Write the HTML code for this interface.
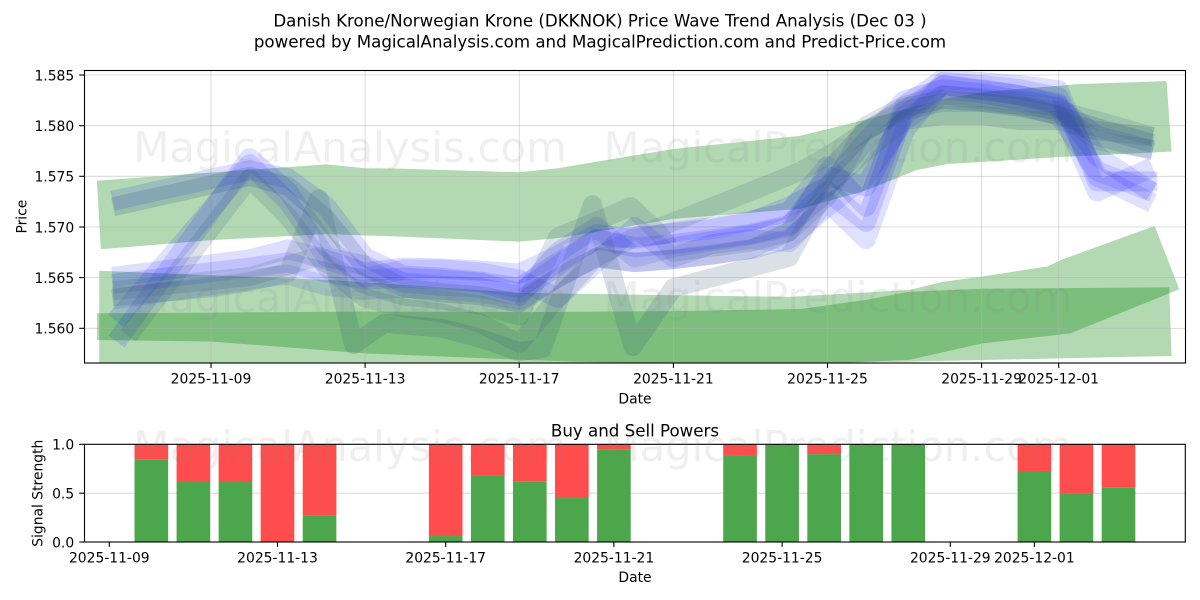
<!DOCTYPE html>
<html>
<head>
<meta charset="utf-8">
<style>
html,body{margin:0;padding:0;background:#fff;}
svg{display:block;}
text{font-family:"DejaVu Sans","Liberation Sans",sans-serif;}
</style>
</head>
<body>
<svg width="1200" height="600" viewBox="0 0 1200 600" xmlns="http://www.w3.org/2000/svg">
<rect width="1200" height="600" fill="#ffffff"/>
<defs>
<clipPath id="ct"><rect x="84.3" y="70.3" width="1101.4" height="292.7"/></clipPath>
</defs>

<!-- Title -->
<text x="600" y="26.5" font-size="16.67" text-anchor="middle" fill="#000">Danish Krone/Norwegian Krone (DKKNOK) Price Wave Trend Analysis (Dec 03 )</text>
<text x="600" y="47.5" font-size="16.67" text-anchor="middle" fill="#000">powered by MagicalAnalysis.com and MagicalPrediction.com and Predict-Price.com</text>

<!-- TOP AXES CONTENT -->
<g clip-path="url(#ct)">
  <g transform="matrix(38.53 0 0 -10.133 211 328.3)" fill="#008000" fill-opacity="0.3" stroke="none">
    <polygon points="-2.96,14.57 3.0,16.18 4.0,15.8 5.0,15.75 8.0,15.4 9.0,15.8 12,17.7 15.3,19.0 17,20.6 19,22.6 20,23.3 22.5,24.1 24.8,24.4 24.93,17.43 22,16.9 19.1,16.2 18.3,15.6 17,13.6 15.3,11.8 12,10.8 9,8.9 8,8.55 5,9.04 3,9.3 0,8.7 -2.86,7.8"/>
    <polygon points="-2.9,5.68 3.1,4.77 8,3.5 15,3.1 18.13,3.78 19,4.6 20,5.1 21.7,6.1 22.1,6.8 24.49,10.1 25.13,3.85 22.3,-0.5 20,-1.5 19.07,-2.3 18.13,-3.1 15.3,-3.6 10,-5 -2.9,-5"/>
    <polygon points="-2.96,1.48 0,1.55 4,1.65 8,1.6 12,1.7 15.3,1.9 17,2.8 18.1,3.6 20,3.9 24.87,4.05 24.93,-2.73 18,-3.3 12,-3.6 8,-3.1 4,-2.47 0,-1.3 -2.96,-1.15"/>
  </g>
  <!-- grid -->
  <g stroke="#b0b0b0" stroke-opacity="0.55" stroke-width="0.8">
    <line x1="211" y1="70" x2="211" y2="363"/>
    <line x1="365.1" y1="70" x2="365.1" y2="363"/>
    <line x1="519.2" y1="70" x2="519.2" y2="363"/>
    <line x1="673.4" y1="70" x2="673.4" y2="363"/>
    <line x1="827.5" y1="70" x2="827.5" y2="363"/>
    <line x1="981.6" y1="70" x2="981.6" y2="363"/>
    <line x1="1058.7" y1="70" x2="1058.7" y2="363"/>
    <line x1="84" y1="75" x2="1186" y2="75"/>
    <line x1="84" y1="125.7" x2="1186" y2="125.7"/>
    <line x1="84" y1="176.3" x2="1186" y2="176.3"/>
    <line x1="84" y1="227" x2="1186" y2="227"/>
    <line x1="84" y1="277.6" x2="1186" y2="277.6"/>
    <line x1="84" y1="328.3" x2="1186" y2="328.3"/>
  </g>
  <!-- wave lines -->
  <g transform="matrix(38.53 0 0 -10.133 211 328.3)" fill="none" stroke-linejoin="round" stroke-linecap="square">
    <polyline vector-effect="non-scaling-stroke" stroke="#0000ff" stroke-opacity="0.13" stroke-width="20" points="-2.3,12.8 1,15.6 2,14.8 3,12.0 4,7.0 5,5.2 6,5.0 7,4.6 8,4.0 9,6.5 10,8.8 11,9.0 12,9.4 13,9.8 14,10.5 15,12.0 16,14.0 17,18.5 18,22.5 19,23.6 20,23.2 21,22.5 22,21.8 23,19.0 24.2,17.8"/>
    <polyline vector-effect="non-scaling-stroke" stroke="#0000ff" stroke-opacity="0.12" stroke-width="20" points="-2.3,-0.5 1,16.8 2,13.5 3,8.0 4,5.0 5,5.8 6,5.8 7,5.5 8,4.8 9,3.0 10,6.5 11,10.0 12,7.0 13,8.3 14,8.8 15,8.5 16,12.5 17,8.8 18,19.5 19,24.3 20,24.0 21,23.6 22,22.8 23,15.0 24.2,12.8"/>
    <polyline vector-effect="non-scaling-stroke" stroke="#0000ff" stroke-opacity="0.12" stroke-width="20" points="-2.3,1.5 1,16.2 2,12.5 3,7.0 4,6.2 5,4.5 6,4.2 7,4.0 8,3.2 9,7.5 10,10.0 11,7.0 12,8.0 13,8.6 14,9.2 15,10.0 16,15.0 17,14.0 18,21.0 19,24.0 20,23.5 21,23.0 22,22.2 23,17.0 24.2,14.0"/>
    <polyline vector-effect="non-scaling-stroke" stroke="#0000ff" stroke-opacity="0.13" stroke-width="20" points="-2.3,5.2 1,6.8 2,7.8 3,6.8 4,5.5 5,6.0 6,5.9 7,5.7 8,5.4 9,7.2 10,9.3 11,8.8 12,9.5 13,10.0 14,10.6 15,11.5 16,16.0 17,12.0 18,22.0 19,24.6 20,24.3 21,24.0 22,23.5 23,14.5 24.3,14.5"/>
    <polyline vector-effect="non-scaling-stroke" stroke="#0000ff" stroke-opacity="0.13" stroke-width="20" points="-2.3,4.5 1,6.0 2,6.5 3,5.5 4,4.8 5,5.0 6,4.8 7,4.5 8,3.5 9,6.2 10,8.8 11,8.0 12,8.3 13,8.8 14,9.3 15,10.2 16,13.5 17,10.5 18,21.5 19,24.0 20,23.6 21,23.0 22,22.0 23,13.5 24.2,15.5"/>
    <polyline vector-effect="non-scaling-stroke" stroke="#0000ff" stroke-opacity="0.11" stroke-width="20" points="-2.3,3.0 1,4.8 2,5.3 3,4.2 4,3.8 5,4.0 6,3.8 7,3.5 8,2.8 9,5.0 10,7.0 11,6.5 12,6.8 13,7.3 14,7.8 15,8.8 16,12.0 17,15.0 18,20.5 19,23.0 20,22.6 21,22.0 22,21.0 23,15.5 24.2,13.8"/>
    <polyline vector-effect="non-scaling-stroke" stroke="#2f4f90" stroke-opacity="0.2" stroke-width="19" points="-2.3,12.2 1,15.0 2,14.0 3,10.8 4,6.0 5,4.0 6,3.5 7,3.2 8,2.5 9,5.0 10,7.0 11,6.5 12,6.8 13,7.2 14,7.8 15,9.5 16,15.5 17,19.5 18,21.8 19,22.6 20,22.3 21,21.8 22,21.0 23,19.8 24.2,18.5"/>
    <polyline vector-effect="non-scaling-stroke" stroke="#345a78" stroke-opacity="0.17" stroke-width="19" points="-2.0,0.0 1,14.8 2,11.0 3,6.0 4,3.0 5,2.0 6,1.5 7,0.5 8,-1.5 9,3.0 10,7.0 11,9.0 12,10.5 13,12.0 14,13.5 15.3,15.5 16,17.0 17,19.5 18,21.5 19,22.3 20,22.3 21,22.0 22,21.5 23,20.5 24.2,19.2"/>
    <polyline vector-effect="non-scaling-stroke" stroke="#345a78" stroke-opacity="0.19" stroke-width="19" points="-2.3,3.2 0,4.0 1,4.6 2,5.5 2.8,12.8 3.7,-1.6 4.5,0.5 6,0.0 7,-1.0 8,-2.3 8.6,-2.0 9.9,12.2 10.95,-1.8 12,4.0 13,5.0 14,6.0 15,7.0 16,14.0 17,17.5 18,20.5 19,21.0 20,21.0 21,20.5 22,20.5 23,19.5 24.2,19.0"/>
    <polyline vector-effect="non-scaling-stroke" stroke="#345a78" stroke-opacity="0.17" stroke-width="19" points="-2.3,3.8 1,5.1 2.7,7.0 4,4.3 5,3.2 6,2.8 7,2.3 8,1.2 9,9.0 10.9,12.0 11.6,9.5 12,7.5 13,8.0 14,8.5 15,9.5 16,13.0 17,20.0 18,22.0 19,23.0 20,22.8 21,22.3 22,21.3 23,18.5 24.2,17.8"/>
  </g>
</g>

<!-- top axes frame & ticks -->
<rect x="84.5" y="70.5" width="1101" height="292.5" fill="none" stroke="#000" stroke-width="1.1"/>
<g stroke="#000" stroke-width="1.1">
  <line x1="211" y1="363" x2="211" y2="367.9"/>
  <line x1="365.1" y1="363" x2="365.1" y2="367.9"/>
  <line x1="519.2" y1="363" x2="519.2" y2="367.9"/>
  <line x1="673.4" y1="363" x2="673.4" y2="367.9"/>
  <line x1="827.5" y1="363" x2="827.5" y2="367.9"/>
  <line x1="981.6" y1="363" x2="981.6" y2="367.9"/>
  <line x1="1058.7" y1="363" x2="1058.7" y2="367.9"/>
  <line x1="79.2" y1="75" x2="84" y2="75"/>
  <line x1="79.2" y1="125.7" x2="84" y2="125.7"/>
  <line x1="79.2" y1="176.3" x2="84" y2="176.3"/>
  <line x1="79.2" y1="227" x2="84" y2="227"/>
  <line x1="79.2" y1="277.6" x2="84" y2="277.6"/>
  <line x1="79.2" y1="328.3" x2="84" y2="328.3"/>
</g>
<g font-size="13.89" fill="#000">
  <text x="211" y="383.5" text-anchor="middle">2025-11-09</text>
  <text x="365.1" y="383.5" text-anchor="middle">2025-11-13</text>
  <text x="519.2" y="383.5" text-anchor="middle">2025-11-17</text>
  <text x="673.4" y="383.5" text-anchor="middle">2025-11-21</text>
  <text x="827.5" y="383.5" text-anchor="middle">2025-11-25</text>
  <text x="981.6" y="383.5" text-anchor="middle">2025-11-29</text>
  <text x="1058.7" y="383.5" text-anchor="middle">2025-12-01</text>
  <text x="74.2" y="80.3" text-anchor="end">1.585</text>
  <text x="74.2" y="131" text-anchor="end">1.580</text>
  <text x="74.2" y="181.6" text-anchor="end">1.575</text>
  <text x="74.2" y="232.3" text-anchor="end">1.570</text>
  <text x="74.2" y="282.9" text-anchor="end">1.565</text>
  <text x="74.2" y="333.6" text-anchor="end">1.560</text>
  <text x="635" y="403.5" text-anchor="middle">Date</text>
  <text x="0" y="0" text-anchor="middle" transform="translate(26.5 216.6) rotate(-90)">Price</text>
</g>

<!-- BOTTOM AXES -->
<line x1="84" y1="493.2" x2="1186" y2="493.2" stroke="#b0b0b0" stroke-opacity="0.55" stroke-width="0.8"/>
<g>
  <rect x="134.53" y="459.74" width="33.64" height="82.26" fill="#4ca64c"/><rect x="134.53" y="444.3" width="33.64" height="15.44" fill="#ff4c4c"/>
  <rect x="176.58" y="482.01" width="33.64" height="59.99" fill="#4ca64c"/><rect x="176.58" y="444.3" width="33.64" height="37.71" fill="#ff4c4c"/>
  <rect x="218.63" y="482.01" width="33.64" height="59.99" fill="#4ca64c"/><rect x="218.63" y="444.3" width="33.64" height="37.71" fill="#ff4c4c"/>
  <rect x="260.68" y="444.3" width="33.64" height="97.7" fill="#ff4c4c"/>
  <rect x="302.73" y="515.33" width="33.64" height="26.67" fill="#4ca64c"/><rect x="302.73" y="444.3" width="33.64" height="71.03" fill="#ff4c4c"/>
  <rect x="428.88" y="536.04" width="33.64" height="5.96" fill="#4ca64c"/><rect x="428.88" y="444.3" width="33.64" height="91.74" fill="#ff4c4c"/>
  <rect x="470.93" y="475.56" width="33.64" height="66.44" fill="#4ca64c"/><rect x="470.93" y="444.3" width="33.64" height="31.26" fill="#ff4c4c"/>
  <rect x="512.98" y="481.72" width="33.64" height="60.28" fill="#4ca64c"/><rect x="512.98" y="444.3" width="33.64" height="37.42" fill="#ff4c4c"/>
  <rect x="555.03" y="498.03" width="33.64" height="43.97" fill="#4ca64c"/><rect x="555.03" y="444.3" width="33.64" height="53.73" fill="#ff4c4c"/>
  <rect x="597.08" y="449.18" width="33.64" height="92.82" fill="#4ca64c"/><rect x="597.08" y="444.3" width="33.64" height="4.88" fill="#ff4c4c"/>
  <rect x="723.23" y="455.05" width="33.64" height="86.95" fill="#4ca64c"/><rect x="723.23" y="444.3" width="33.64" height="10.75" fill="#ff4c4c"/>
  <rect x="765.28" y="444.3" width="33.64" height="97.7" fill="#4ca64c"/>
  <rect x="807.33" y="454.07" width="33.64" height="87.93" fill="#4ca64c"/><rect x="807.33" y="444.3" width="33.64" height="9.77" fill="#ff4c4c"/>
  <rect x="849.38" y="444.3" width="33.64" height="97.7" fill="#4ca64c"/>
  <rect x="891.43" y="444.3" width="33.64" height="97.7" fill="#4ca64c"/>
  <rect x="1017.58" y="470.97" width="33.64" height="71.03" fill="#4ca64c"/><rect x="1017.58" y="444.3" width="33.64" height="26.67" fill="#ff4c4c"/>
  <rect x="1059.63" y="493.15" width="33.64" height="48.85" fill="#4ca64c"/><rect x="1059.63" y="444.3" width="33.64" height="48.85" fill="#ff4c4c"/>
  <rect x="1101.68" y="487.29" width="33.64" height="54.71" fill="#4ca64c"/><rect x="1101.68" y="444.3" width="33.64" height="42.99" fill="#ff4c4c"/>
</g>
<rect x="84.5" y="444.3" width="1100.8" height="97.7" fill="none" stroke="#000" stroke-width="1.1"/>
<g stroke="#000" stroke-width="1.1">
  <line x1="109.3" y1="542" x2="109.3" y2="546.9"/>
  <line x1="277.5" y1="542" x2="277.5" y2="546.9"/>
  <line x1="445.7" y1="542" x2="445.7" y2="546.9"/>
  <line x1="613.9" y1="542" x2="613.9" y2="546.9"/>
  <line x1="782.1" y1="542" x2="782.1" y2="546.9"/>
  <line x1="950.3" y1="542" x2="950.3" y2="546.9"/>
  <line x1="1034.4" y1="542" x2="1034.4" y2="546.9"/>
  <line x1="79.2" y1="444.3" x2="84" y2="444.3"/>
  <line x1="79.2" y1="493.2" x2="84" y2="493.2"/>
  <line x1="79.2" y1="542" x2="84" y2="542"/>
</g>
<g font-size="13.89" fill="#000">
  <text x="109.3" y="562.3" text-anchor="middle">2025-11-09</text>
  <text x="277.5" y="562.3" text-anchor="middle">2025-11-13</text>
  <text x="445.7" y="562.3" text-anchor="middle">2025-11-17</text>
  <text x="613.9" y="562.3" text-anchor="middle">2025-11-21</text>
  <text x="782.1" y="562.3" text-anchor="middle">2025-11-25</text>
  <text x="950.3" y="562.3" text-anchor="middle">2025-11-29</text>
  <text x="1034.4" y="562.3" text-anchor="middle">2025-12-01</text>
  <text x="74.2" y="449.6" text-anchor="end">1.0</text>
  <text x="74.2" y="498.5" text-anchor="end">0.5</text>
  <text x="74.2" y="547.3" text-anchor="end">0.0</text>
  <text x="635" y="581.8" text-anchor="middle">Date</text>
  <text x="0" y="0" text-anchor="middle" transform="translate(42.5 493.2) rotate(-90)">Signal Strength</text>
</g>
<text x="635" y="436.5" font-size="16.67" text-anchor="middle" fill="#000">Buy and Sell Powers</text>

<!-- Watermarks -->
<g font-size="41.67" fill="#808080" fill-opacity="0.13" text-anchor="middle">
  <text x="350" y="162">MagicalAnalysis.com</text>
  <text x="838" y="162">MagicalPrediction.com</text>
  <text x="350" y="312">MagicalAnalysis.com</text>
  <text x="838" y="312">MagicalPrediction.com</text>
  <text x="350" y="461">MagicalAnalysis.com</text>
  <text x="838" y="461">MagicalPrediction.com</text>
</g>
</svg>
</body>
</html>
